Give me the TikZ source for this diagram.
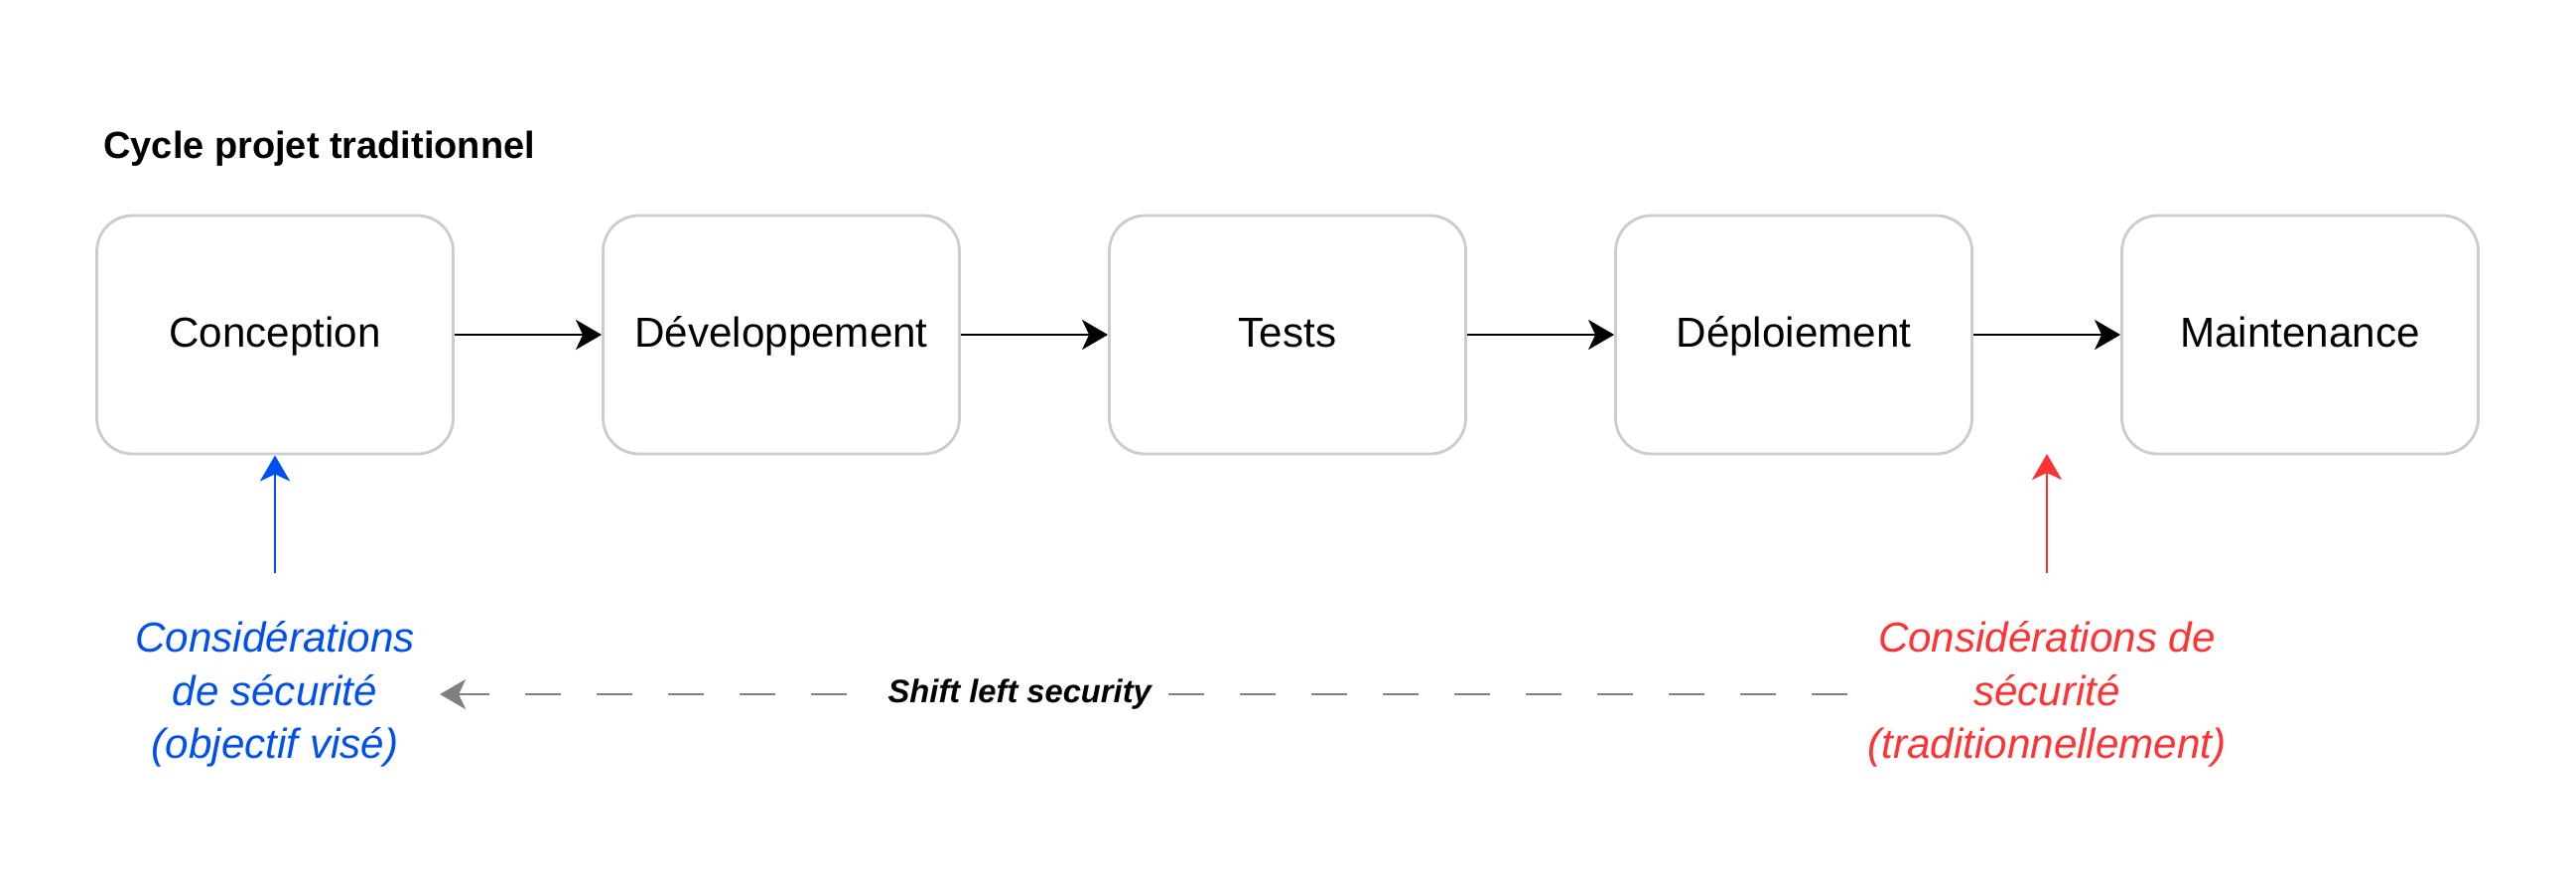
\documentclass[tikz,border=0pt]{standalone}
\usepackage{fontspec}
\setmainfont{Liberation Sans}
\usetikzlibrary{arrows.meta}
\definecolor{boxgray}{HTML}{CCCCCC}
\definecolor{goalblue}{HTML}{0050EF}
\definecolor{tradred}{HTML}{FF3333}
\definecolor{shiftgray}{HTML}{808080}

\begin{document}
\begin{tikzpicture}[node distance=5.1cm, >={Stealth[length=0.26cm,width=0.3cm,inset=0.07cm]},
    phase/.style={draw=boxgray, line width=0.8pt, rounded corners=0.36cm, minimum width=3.59cm, minimum height=2.4cm, text height=0.9em, text depth=0.2em, font=\fontsize{12}{14}\selectfont},
    note/.style={align=center, font=\fontsize{12}{15.3}\selectfont\itshape}]
      \useasboundingbox (0,0) rectangle (25.95,8.85);
      \node[anchor=west, font=\fontsize{10.8}{13}\selectfont\bfseries] (title) at (0.92,7.35) {Cycle projet traditionnel};
      \node[phase] (C) at (2.77,5.48) {Conception};
      \node[phase, right of=C] (D) {Développement};
      \node[phase, right of=D] (T) {Tests};
      \node[phase, right of=T] (P) {Déploiement};
      \node[phase, right of=P] (M) {Maintenance};
      \draw[->, line width=0.8pt] (C) -- (D);
      \draw[->, line width=0.8pt] (D) -- (T);
      \draw[->, line width=0.8pt] (T) -- (P);
      \draw[->, line width=0.8pt] (P) -- (M);
      \node[note, text=goalblue] (goal) at (2.77,1.86) {Considérations\\de sécurité\\(objectif visé)};
      \node[note, text=tradred] (trad) at (20.62,1.86) {Considérations de\\sécurité\\(traditionnellement)};
      \coordinate (goalfoot) at (2.77,3.08);
      \coordinate (tradfoot) at (20.62,3.08);
      \coordinate (tradtip) at (20.62,4.28);
      \draw[->, line width=0.8pt, goalblue] (goalfoot) -- (C.south);
      \draw[->, line width=0.8pt, tradred] (tradfoot) -- (tradtip);
      \draw[->, line width=0.8pt, shiftgray, dash pattern=on 0.36cm off 0.36cm, shorten >=0.13cm, shorten <=0.08cm] (trad) -- node[pos=0.585, fill=white, inner sep=3pt, text=black, font=\fontsize{9.3}{11}\selectfont\bfseries\itshape] {Shift left security} (goal);
    \end{tikzpicture}
\end{document}
